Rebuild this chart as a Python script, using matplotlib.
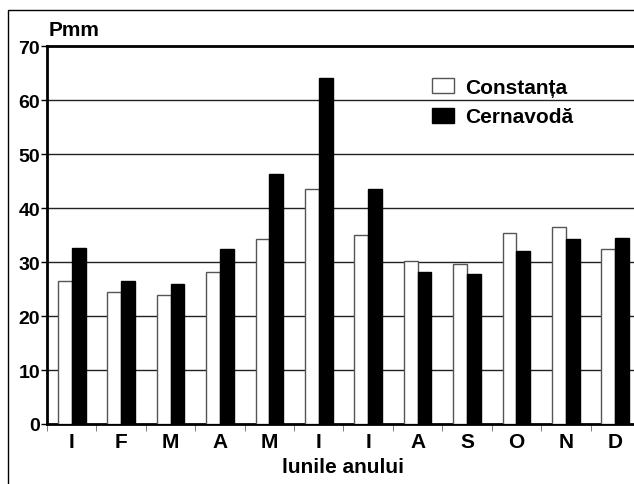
import matplotlib.pyplot as plt
import numpy as np
from matplotlib.patches import Rectangle

plt.rcParams['font.family'] = ['Liberation Sans', 'DejaVu Sans']
plt.rcParams['font.weight'] = 'bold'

months = ['I', 'F', 'M', 'A', 'M', 'I', 'I', 'A', 'S', 'O', 'N', 'D']
constanta = [26.5, 24.5, 23.8, 28.2, 34.3, 43.5, 35.0, 30.1, 29.6, 35.3, 36.4, 32.4]
cernavoda = [32.6, 26.4, 25.9, 32.4, 46.3, 64.1, 43.5, 28.2, 27.7, 32.1, 34.3, 34.4]

fig = plt.figure(figsize=(6.34, 4.85), dpi=100)
ax = fig.add_axes([47/634, 60/485, 593/634, 378/485])

x = np.arange(len(months))
w = 0.28
ax.bar(x - w/2, constanta, w, color='white', edgecolor='#555555', linewidth=1, label='Constanța', zorder=3)
ax.bar(x + w/2, cernavoda, w, color='black', edgecolor='black', linewidth=1, label='Cernavodă', zorder=3)

ax.set_xlim(-0.5, 11.5)
ax.set_ylim(0, 70)
ax.set_yticks(range(0, 71, 10))
ax.set_yticklabels([str(v) for v in range(0, 71, 10)], fontsize=14, fontweight='bold')
ax.set_xticks(x)
ax.set_xticklabels(months, fontsize=15, fontweight='bold')
ax.set_xticks(np.arange(-0.5, 12, 1), minor=True)
ax.tick_params(axis='x', which='major', length=0, pad=6)
ax.tick_params(axis='x', which='minor', length=5, color='#666666', direction='out')
ax.tick_params(axis='y', length=4, width=1, pad=1)

for v in range(10, 70, 10):
    ax.axhline(v, color='#222222', linewidth=1, zorder=1)

for s in ['left', 'bottom', 'top']:
    ax.spines[s].set_linewidth(2)
ax.spines['right'].set_visible(False)

ax.set_xlabel('lunile anului', fontsize=15, fontweight='bold', labelpad=4)
ax.text(0.003, 1.018, 'Pmm', transform=ax.transAxes, fontsize=15, fontweight='bold', ha='left', va='bottom')

ax.legend(loc='upper left', bbox_to_anchor=(0.618, 0.965), frameon=False, fontsize=15,
          handlelength=1.05, handleheight=0.75, handletextpad=0.55, labelspacing=0.5)

fig.add_artist(Rectangle((8/634, -0.1), 2, 1 - 11/485 + 0.1, transform=fig.transFigure,
                         fill=False, edgecolor='black', linewidth=1))

fig.savefig('out.png', dpi=100)
